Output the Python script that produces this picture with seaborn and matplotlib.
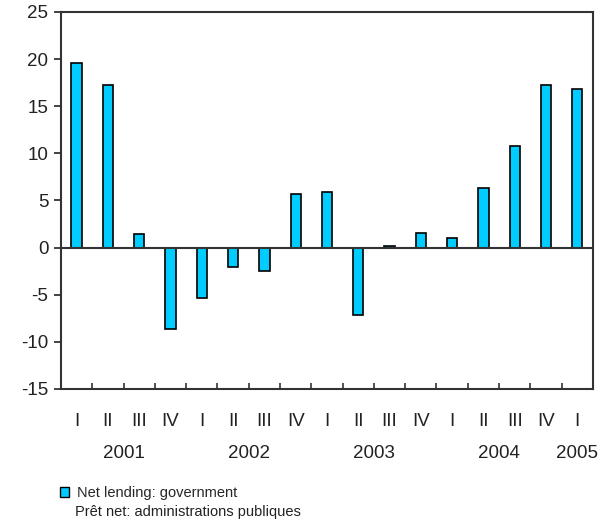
import numpy as np
import pandas as pd
import matplotlib
matplotlib.use("Agg")
import matplotlib.pyplot as plt
import matplotlib.transforms as mtransforms
from matplotlib.patches import Patch
import seaborn as sns

quarters = ["I", "II", "III", "IV", "I", "II", "III", "IV", "I", "II", "III", "IV",
            "I", "II", "III", "IV", "I"]
values = [19.6, 17.2, 1.4, -8.6, -5.4, -2.1, -2.5, 5.7, 5.9, -7.2, 0.2, 1.6,
          1.0, 6.3, 10.8, 17.2, 16.8]
years = ["2001", "2002", "2003", "2004", "2005"]
year_pos = [1.5, 5.5, 9.5, 13.5, 16.0]
legend_lines = ["Net lending: government", "Prêt net: administrations publiques"]

BAR_COLOR = "#00CCFF"

sns.set_style("white")
plt.rcParams["font.family"] = ["Liberation Sans", "DejaVu Sans"]
plt.rcParams["axes.unicode_minus"] = False

df = pd.DataFrame({"pos": np.arange(len(values)), "value": values})

fig = plt.figure(figsize=(6.1, 5.2), dpi=100)
ax = fig.add_axes([0.1, 0.252, 0.872, 0.725])

sns.barplot(data=df, x="pos", y="value", color=BAR_COLOR, saturation=1,
            width=0.33, edgecolor="black", linewidth=1.2, ax=ax, native_scale=True)

ax.axhline(0, color="#333333", lw=1.5, zorder=1)
ax.set_xlim(-0.5, len(values) - 0.5)
ax.set_ylim(-15, 25)
ax.set_yticks(range(-15, 30, 5))
ax.set_xticks(np.arange(len(values)))
ax.set_xticklabels(quarters)
ax.set_xticks(np.arange(0.5, len(values) - 1, 1.0), minor=True)
ax.set_xlabel("")
ax.set_ylabel("")

for s in ax.spines.values():
    s.set_visible(True)
    s.set_color("#333333")
    s.set_linewidth(1.5)

ax.tick_params(axis="y", which="major", left=True, direction="out", length=5,
               width=1.2, labelsize=13.5, colors="#222222", pad=4)
ax.tick_params(axis="x", which="major", bottom=True, length=0, labelsize=13.5,
               colors="#222222", pad=17)
ax.tick_params(axis="x", which="minor", bottom=True, direction="in", length=4,
               width=1.2, color="#333333")

trans = mtransforms.blended_transform_factory(ax.transData, ax.transAxes)
for yr, p in zip(years, year_pos):
    ax.text(p, -0.172, yr, transform=trans, ha="center", va="center",
            fontsize=13.5, color="#222222")

fig.legend(handles=[Patch(facecolor=BAR_COLOR, edgecolor="black", linewidth=1)],
           labels=[legend_lines[0]], loc="center left",
           bbox_to_anchor=(60 / 610, 1 - 493 / 520), frameon=False,
           fontsize=10.5, handlelength=0.65, handleheight=0.65, handletextpad=0.5,
           borderpad=0, borderaxespad=0)
fig.text(75 / 610, 1 - 512 / 520, legend_lines[1], ha="left", va="center",
         fontsize=10.5, color="#222222")

fig.savefig("out.png", dpi=100)
